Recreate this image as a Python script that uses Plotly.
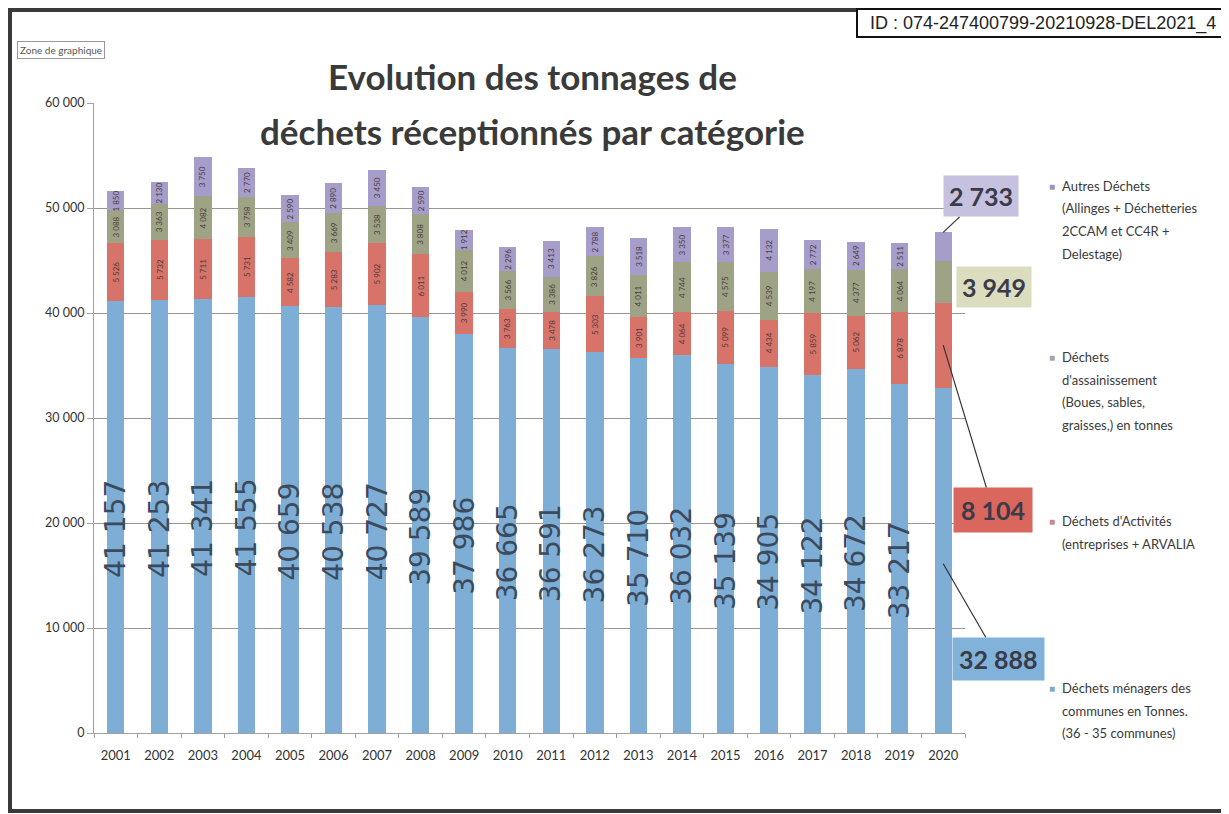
import plotly.graph_objects as go

# --- data (tonnes) ---
annees = [str(a) for a in range(2001, 2021)]
menagers = [41157, 41253, 41341, 41555, 40659, 40538, 40727, 39589, 37986, 36665,
            36591, 36273, 35710, 36032, 35139, 34905, 34122, 34672, 33217, 32888]
activites = [5526, 5732, 5711, 5731, 4582, 5283, 5902, 6011, 3990, 3763,
             3478, 5303, 3901, 4064, 5099, 4434, 5859, 5062, 6878, 8104]
assainissement = [3088, 3363, 4082, 3758, 3409, 3669, 3538, 3808, 4012, 3566,
                  3386, 3826, 4011, 4744, 4575, 4539, 4197, 4377, 4064, 3949]
autres = [1850, 2130, 3750, 2770, 2590, 2890, 3450, 2590, 1912, 2296,
          3413, 2788, 3518, 3350, 3377, 4132, 2772, 2649, 2511, 2733]

y_ticks = [0, 10000, 20000, 30000, 40000, 50000, 60000]
y_ticktext = ["0", "10 000", "20 000", "30 000", "40 000", "50 000", "60 000"]

noms = [
    ["Autres Déchets", "(Allinges + Déchetteries", "2CCAM et CC4R +", "Delestage)"],
    ["Déchets", "d'assainissement", "(Boues, sables,", "graisses,) en tonnes"],
    ["Déchets d'Activités", "(entreprises + ARVALIA"],
    ["Déchets ménagers des", "communes en Tonnes.", "(36 - 35 communes)"],
]

BLEU = "#7eaed6"
ROUGE = "#d8736a"
OLIVE = "#9ea386"
VIOLET = "#a69dca"

# page body has an 8px margin: figure is sized to fill the rest of the window
OFF = 8
W, H = 1229 - OFF, 814 - OFF
L, T = 94 - OFF, 103 - OFF
R, B = W - (965 - OFF), H - (733 - OFF)


def xp(px):
    return (px - OFF - L) / (W - L - R)


def yp(py):
    return (H - B - (py - OFF)) / (H - T - B)


def fmt(v):
    return f"{v:,}".replace(",", " ")


fig = go.Figure()
for vals, col, nom in [(menagers, BLEU, "Déchets ménagers"),
                       (activites, ROUGE, "Déchets d'Activités"),
                       (assainissement, OLIVE, "Déchets d'assainissement"),
                       (autres, VIOLET, "Autres Déchets")]:
    fig.add_trace(go.Bar(x=annees, y=vals, name=nom, marker_color=col,
                         marker_line_width=0, showlegend=False))

ann = []
# big vertical labels in the blue bars (not for 2020, which has a callout)
# annotations on a category axis use the category index
for i in range(len(annees) - 1):
    ann.append(dict(x=i, y=menagers[i] / 2, text=fmt(menagers[i]), showarrow=False,
                    textangle=-90, yshift=-12,
                    font=dict(family="DejaVu Sans", size=28, color="#3b4a5c")))
    base = menagers[i]
    for vals in (activites, assainissement, autres):
        ann.append(dict(x=i, y=base + vals[i] / 2, text=fmt(vals[i]), showarrow=False,
                        textangle=-90, font=dict(family="Lato", size=8, color="#4a3c3c")))
        base += vals[i]

# callouts for 2020
i = len(annees) - 1
tot = menagers[i] + activites[i] + assainissement[i] + autres[i]
call_font = dict(family="Lato", size=25, color="#3a3a48")
ann.append(dict(x=i, y=tot, text="<b>" + fmt(autres[i]) + "</b>", showarrow=True,
                arrowhead=0, arrowwidth=1.2, arrowcolor="#333", ax=38, ay=-36,
                bgcolor="#c6c1de", borderpad=5, font=call_font))
ann.append(dict(x=i, y=menagers[i] + activites[i] + assainissement[i] / 2,
                text="<b>" + fmt(assainissement[i]) + "</b>", showarrow=False,
                xshift=51, yshift=-5, bgcolor="#dcdcbf", borderpad=5, font=call_font))
ann.append(dict(x=i, y=menagers[i] + activites[i] * 0.5, text="<b>" + fmt(activites[i]) + "</b>",
                showarrow=True, arrowhead=0, arrowwidth=1.2, arrowcolor="#333", ax=50, ay=165,
                bgcolor="#d9675e", borderpad=7, font=call_font))
ann.append(dict(x=i, y=menagers[i] * 0.49, text="<b>" + fmt(menagers[i]) + "</b>",
                showarrow=True, arrowhead=0, arrowwidth=1.2, arrowcolor="#333", ax=55, ay=95,
                bgcolor="#80b2da", borderpad=6, font=call_font))

# legend drawn as text on the right
leg_y = [186, 357, 521, 688]
leg_col = ["#9c93b8", "#a4a4a4", "#c98a84", "#7ea9cf"]
for lines, y0, c in zip(noms, leg_y, leg_col):
    ann.append(dict(x=xp(1052), y=yp(y0), xref="paper", yref="paper", text="■",
                    showarrow=False, xanchor="center", yanchor="middle",
                    font=dict(size=10, color=c)))
    for k, t in enumerate(lines):
        ann.append(dict(x=xp(1060), y=yp(y0 + k * 22.5), xref="paper", yref="paper", text=t,
                        showarrow=False, xanchor="left", yanchor="middle",
                        font=dict(family="Lato", size=13, color="#3a3a3a")))

# title
for t, yy in [("Evolution des tonnages de", 76), ("déchets réceptionnés par catégorie", 131)]:
    ann.append(dict(x=xp(532), y=yp(yy), xref="paper", yref="paper", text="<b>" + t + "</b>",
                    showarrow=False, xanchor="center", yanchor="middle",
                    font=dict(family="Lato", size=35, color="#3a3a3a")))

ann.append(dict(x=xp(17), y=yp(50), xref="paper", yref="paper", text="Zone de graphique",
                showarrow=False, xanchor="left", yanchor="middle", bordercolor="#9a9a9a",
                borderwidth=1, borderpad=2, bgcolor="#ffffff",
                font=dict(family="Lato", size=10, color="#555")))
ann.append(dict(x=xp(868), y=yp(23), xref="paper", yref="paper",
                text="ID : 074-247400799-20210928-DEL2021_4", showarrow=False,
                xanchor="left", yanchor="middle",
                font=dict(family="Liberation Sans", size=18, color="#222")))

shapes = [
    dict(type="rect", xref="paper", yref="paper", x0=xp(10), x1=xp(1223), y0=yp(10), y1=yp(811),
         line=dict(color="#3a3a3a", width=4), layer="below"),
    dict(type="rect", xref="paper", yref="paper", x0=xp(857), x1=xp(1240), y0=yp(9), y1=yp(37),
         line=dict(color="#111", width=2), fillcolor="#ffffff", layer="below"),
]

fig.update_layout(
    width=W, height=H,
    margin=dict(l=L, r=R, t=T, b=B),
    paper_bgcolor="#ffffff", plot_bgcolor="#ffffff",
    barmode="stack", bargap=0.6,
    font=dict(family="Lato", size=12, color="#333"),
    annotations=ann, shapes=shapes,
    xaxis=dict(type="category", range=[-0.5, len(annees) - 0.5], showline=True,
               linecolor="#a0a0a0", ticks="outside", tickson="boundaries", ticklen=4,
               tickcolor="#a0a0a0", tickangle=0, ticklabelstandoff=10,
               tickfont=dict(size=13, color="#333")),
    yaxis=dict(range=[0, 60000], tickvals=y_ticks, ticktext=y_ticktext, showgrid=True,
               gridcolor="#9c9590", gridwidth=1, showline=True, linecolor="#a0a0a0",
               ticks="outside", ticklen=6, tickcolor="#a0a0a0", zeroline=False,
               tickfont=dict(size=12.5, color="#333")),
)

fig.write_html("out.html")
